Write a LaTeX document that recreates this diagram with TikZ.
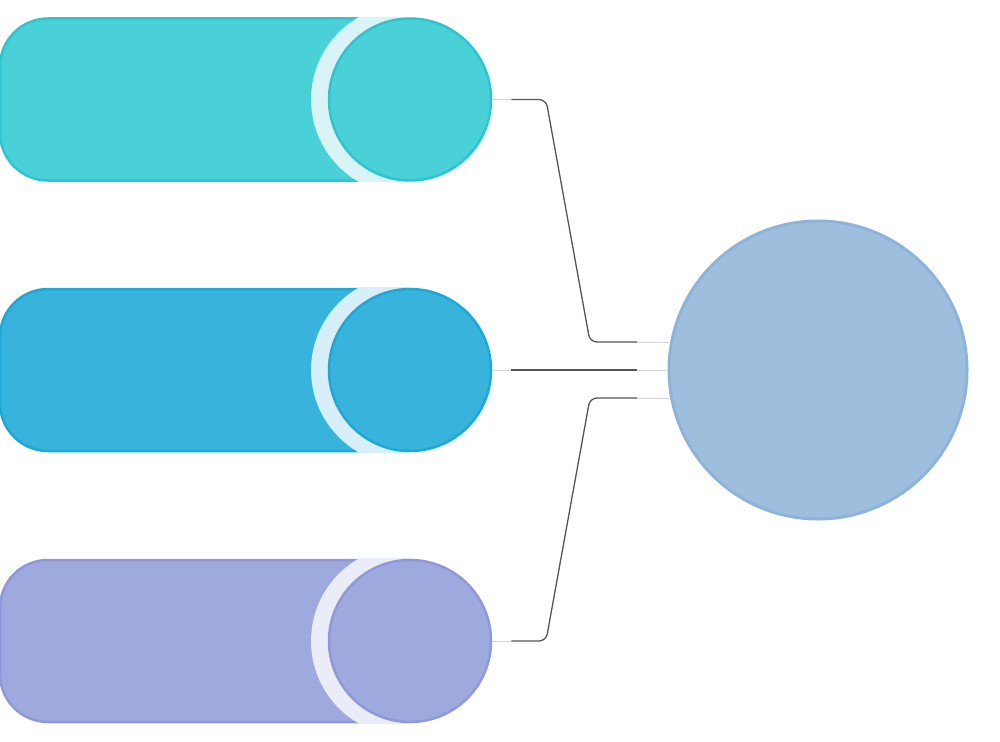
\documentclass[tikz,border=0pt]{standalone}
\usetikzlibrary{calc}
\definecolor{tealF}{HTML}{4AD0D7}
\definecolor{tealB}{HTML}{2EC5D0}
\definecolor{tealL}{HTML}{D8F4F6}
\definecolor{blueF}{HTML}{37B3DC}
\definecolor{blueB}{HTML}{1DA8D8}
\definecolor{blueL}{HTML}{D6EFF8}
\definecolor{violF}{HTML}{9EA9DE}
\definecolor{violB}{HTML}{8D99DA}
\definecolor{violL}{HTML}{EAEDF8}
\definecolor{hubF}{HTML}{9DBFDD}
\definecolor{hubB}{HTML}{8DB3DA}
\definecolor{wireD}{HTML}{555555}
\definecolor{wireL}{HTML}{D4D4D4}
\tikzset{
  endcircle/.style={circle, inner sep=0pt, minimum size=162pt, line width=2.5pt},
  hubcircle/.style={circle, inner sep=0pt, minimum size=298pt, line width=3pt, draw=hubB, fill=hubF},
  darkwire/.style={draw=wireD, line width=1.3pt, rounded corners=7pt},
  lightwire/.style={draw=wireL, line width=1pt},
}
\newcommand{\pill}[5]{% #1 centre y, #2 fill, #3 border, #4 light, #5 name
  \draw[fill=#2, draw=#3, line width=2.5pt, rounded corners=48pt]
    (406,#1-81) -- (0,#1-81) -- (0,#1+81) -- (406,#1+81);
  \begin{scope}
    \clip (0,#1-82.3) rectangle (410,#1+82.3);
    \fill[#4] (406,#1) circle (95pt);
  \end{scope}
  \node[endcircle, fill=#2, draw=#3] (#5) at (410,#1) {};
}
\begin{document}
\begin{tikzpicture}[x=1pt,y=-1pt]
\useasboundingbox (0,0) rectangle (1000,741);
\pill{99.5}{tealF}{tealB}{tealL}{c1}
\pill{370}{blueF}{blueB}{blueL}{c2}
\pill{641}{violF}{violB}{violL}{c3}
\node[hubcircle] (hub) at (818,370) {};
% connector anchors
\coordinate (a1) at ($(c1.east)+(19,0)$);
\coordinate (a2) at ($(c2.east)+(19,0)$);
\coordinate (a3) at ($(c3.east)+(19,0)$);
\coordinate (h1) at (637,342);
\coordinate (h2) at (637,370);
\coordinate (h3) at (637,398);
\coordinate (e1) at ($(hub.center)+(-149.3,-28)$);
\coordinate (e2) at (hub.west);
\coordinate (e3) at ($(hub.center)+(-149.3,28)$);
% light stubs
\draw[lightwire] (c1.east) -- (a1);
\draw[lightwire] (c2.east) -- (a2);
\draw[lightwire] (c3.east) -- (a3);
\draw[lightwire] (h1) -- (e1);
\draw[lightwire] (h2) -- (e2);
\draw[lightwire] (h3) -- (e3);
% dark connectors
\draw[darkwire] (a1) -- (546,99.5) -- (590,342) -- (h1);
\draw[darkwire] (a2) -- (h2);
\draw[darkwire] (a3) -- (546,641) -- (590,398) -- (h3);
\end{tikzpicture}
\end{document}
